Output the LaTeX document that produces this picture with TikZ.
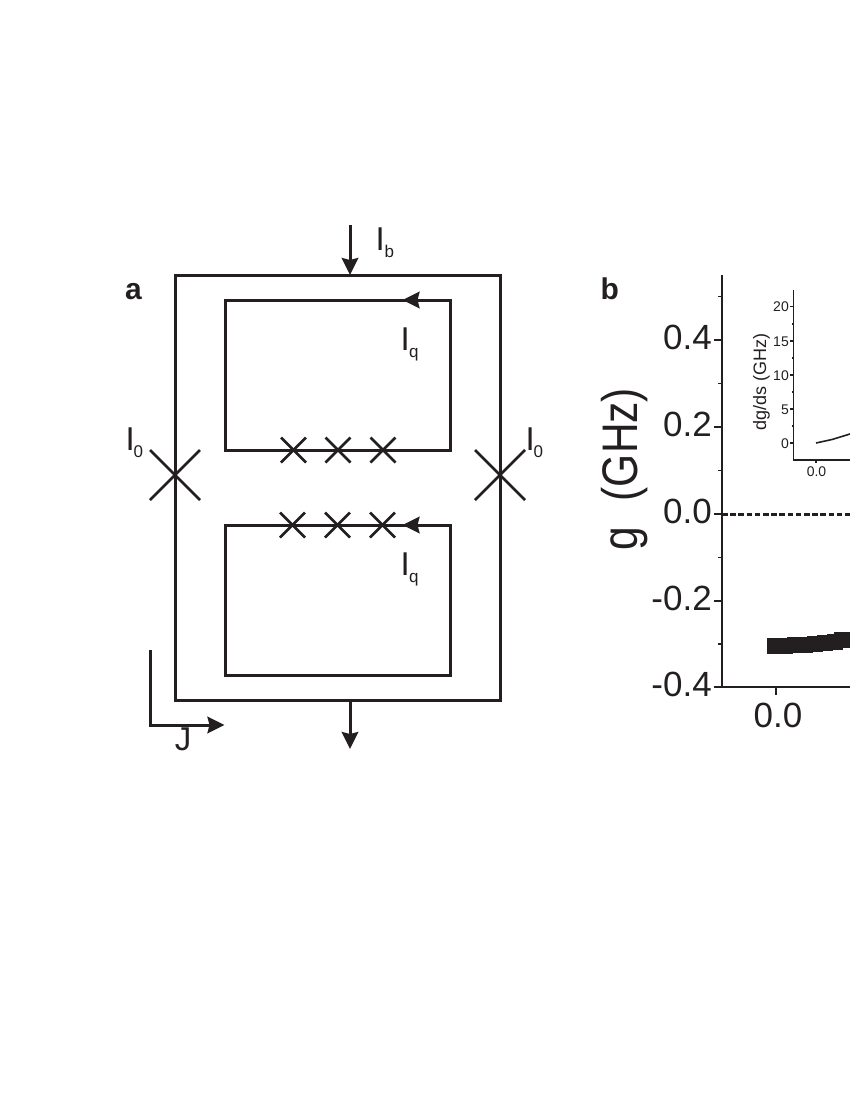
\documentclass[tikz,border=0pt]{standalone}
\usepackage{fontspec}
\setmainfont{Liberation Sans}
\usetikzlibrary{arrows.meta}
\definecolor{ink}{HTML}{231F20}
\tikzset{
    wire/.style={draw=ink, line width=3pt},
    jct/.style={draw=ink, line width=2.7pt},
    flow/.style={draw=ink, line width=3pt, -{Stealth[length=17pt,width=16.5pt,inset=2pt]}},
    axisline/.style={draw=ink, line width=1.7pt},
    insetline/.style={draw=ink, line width=1.1pt},
    panel/.style={inner sep=0pt, text=ink, font=\bfseries\fontsize{30}{30}\selectfont},
    curlab/.style={inner sep=0pt, text=ink, font=\fontsize{33}{33}\selectfont},
    sublab/.style={inner sep=0pt, text=ink, font=\fontsize{17}{17}\selectfont},
    ticklab/.style={inner sep=0pt, text=ink, font=\fontsize{35}{35}\selectfont},
    insetlab/.style={inner sep=0pt, text=ink, font=\fontsize{14}{14}\selectfont}
}
\begin{document}
\begin{tikzpicture}[x=1pt, y=-1pt]
    \useasboundingbox (0,0) rectangle (850,1100);

    % Outer loop and the two qubit loops
    \draw[wire] (175,275) rectangle (500,700);
    \draw[wire] (225,300) rectangle (450,450);
    \draw[wire] (225,525) rectangle (450,675);

    % Large junctions
    \foreach \x in {175,500} {
        \draw[jct] (\x-25,450) -- (\x+25,500);
        \draw[jct] (\x-25,500) -- (\x+25,450);
    }

    % Small junctions
    \foreach \x in {293.5,338,383} {
        \draw[jct] (\x-12.5,437.5) -- (\x+12.5,462.5);
        \draw[jct] (\x-12.5,462.5) -- (\x+12.5,437.5);
    }
    \foreach \x in {292.5,337.5,382.5} {
        \draw[jct] (\x-12.5,512.5) -- (\x+12.5,537.5);
        \draw[jct] (\x-12.5,537.5) -- (\x+12.5,512.5);
    }

    % Bias current arrows
    \coordinate (bias in) at (350,225);
    \coordinate (bias top) at (350,275);
    \coordinate (bias bottom) at (350,700);
    \coordinate (bias out) at (350,749);
    \draw[flow] (bias in) -- (bias top);
    \draw[flow] (bias bottom) -- (bias out);

    % Loop current arrows
    \foreach \y in {300,525} {
        \draw[flow] (425,\y) -- (402.5,\y);
    }

    % Direction of J
    \coordinate (j start) at (150,650);
    \coordinate (j corner) at (150,725);
    \coordinate (j end) at (224.5,725);
    \draw[flow] (j start) -- (j corner) -- (j end);

    % Labels of panel a
    \node[panel, anchor=base west] (a label) at (125,299.5) {a};
    \node[curlab, anchor=base west] (ib) at (375.5,250) {I};
    \node[sublab, anchor=base west] (ib sub) at (384.5,257) {b};
    \node[curlab, anchor=base west] (iq top) at (400.5,350) {I};
    \node[sublab, anchor=base west] (iq top sub) at (409,357) {q};
    \node[curlab, anchor=base west] (iq low) at (400.5,575) {I};
    \node[sublab, anchor=base west] (iq low sub) at (409,582) {q};
    \node[curlab, anchor=base west] (i0 left) at (125.5,450) {I};
    \node[sublab, anchor=base west] (i0 left sub) at (133.5,457.5) {0};
    \node[curlab, anchor=base west] (i0 right) at (525.5,450) {I};
    \node[sublab, anchor=base west] (i0 right sub) at (533.5,457.5) {0};
    \node[curlab, anchor=base] (j label) at (183,750) {J};

    % Main axes of panel b
    \node[panel, anchor=base west] (b label) at (600.5,299.5) {b};
    \draw[axisline] (722,275) -- (722,687) -- (850,687);
    \foreach \y/\val in {340/0.4,427/0.2,514/0.0,600.7/-0.2,687/-0.4} {
        \draw[axisline] (714,\y) -- (722,\y);
        \node[ticklab, anchor=base east] (tick \val) at (712,\y+9.5) {\val};
    }
    \foreach \y in {296.5,383.5,470.5,557.5,644} {
        \draw[axisline] (718,\y) -- (722,\y);
    }
    \draw[axisline] (776,687) -- (776,695);
    \node[ticklab, anchor=base] (xtick 0) at (778,727) {0.0};
    \node[inner sep=0pt, text=ink, rotate=90, anchor=base, font=\fontsize{50}{50}\selectfont] (g label) at (637,469) {\scalebox{0.85}[1]{g\hspace{16pt} (GHz)}};

    % Zero line and data
    \draw[draw=ink, line width=3pt, dash pattern=on 5.5pt off 2.7pt] (722,514) -- (850,514);
    \foreach \x/\y in {767/638,777/637.8,787/637.3,797/636.8,807/636,817/635,827/633.8,834/632} {
        \fill[ink] (\x,\y) rectangle ++(16,16);
    }

    % Inset
    \draw[insetline] (793.5,290) -- (793.5,460) -- (850,460);
    \foreach \y/\val in {306.7/20,341/15,375/10,409/5,443/0} {
        \draw[insetline] (790,\y) -- (793.5,\y);
        \node[insetlab, anchor=base east] (inset tick \val) at (789,\y+5) {\val};
    }
    \foreach \y in {324,358,392,426} {
        \draw[insetline] (791.5,\y) -- (793.5,\y);
    }
    \draw[insetline] (816,460) -- (816,463);
    \node[insetlab, anchor=base] (inset xtick 0) at (816.5,476) {0.0};
    \node[inner sep=0pt, text=ink, rotate=90, anchor=base, font=\fontsize{18}{18}\selectfont] (inset label) at (766,382) {dg/ds (GHz)};
    \draw[draw=ink, line width=1.6pt] (816,443) -- (832,439.5) -- (850,434);
\end{tikzpicture}
\end{document}
